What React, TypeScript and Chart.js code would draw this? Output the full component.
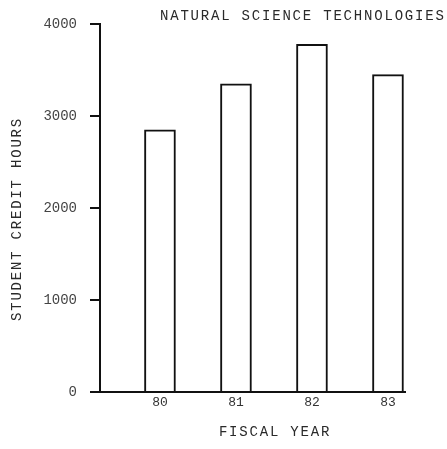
import React, { useEffect, useRef } from "react";
import { Chart, registerables } from "chart.js";

Chart.register(...registerables);

const fiscalYears = [80, 81, 82, 83];
const creditHours = [2850, 3350, 3780, 3450];
const yTicks = [0, 1000, 2000, 3000, 4000];
const chartTitle = "NATURAL SCIENCE TECHNOLOGIES";
const yTitle = "STUDENT CREDIT HOURS";
const xTitle = "FISCAL YEAR";

const MONO = '"Liberation Mono", "DejaVu Sans Mono", monospace';

const titlesPlugin = {
  id: "typedTitles",
  afterDraw(chart: any) {
    const ctx = chart.ctx;
    ctx.save();
    ctx.fillStyle = "#2a2a2a";
    ctx.font = `14px ${MONO}`;
    (ctx as any).letterSpacing = "1.8px";
    ctx.textBaseline = "middle";
    ctx.textAlign = "left";
    ctx.fillText(chartTitle, 160, 16);
    ctx.textAlign = "center";
    ctx.fillText(xTitle, 275, 432);
    ctx.translate(17, 219);
    ctx.rotate(-Math.PI / 2);
    ctx.fillText(yTitle, 0, 0);
    ctx.restore();
  },
};

export default function App() {
  const ref = useRef<HTMLCanvasElement | null>(null);
  useEffect(() => {
    if (!ref.current) return;
    const chart = new Chart(ref.current, {
      type: "bar",
      data: {
        datasets: [
          {
            data: fiscalYears.map((y, i) => ({ x: y, y: creditHours[i] })),
            backgroundColor: "#ffffff",
            borderColor: "#111111",
            borderWidth: 2,
            barThickness: 31,
          },
        ],
      },
      options: {
        animation: false,
        responsive: false,
        layout: { padding: { left: 0, right: 42, top: 24, bottom: 0 } },
        plugins: { legend: { display: false }, tooltip: { enabled: false } },
        scales: {
          x: {
            type: "linear",
            offset: false,
            min: 79.211,
            max: 83.224,
            afterBuildTicks: (scale: any) => {
              scale.ticks = fiscalYears.map((v) => ({ value: v }));
            },
            afterFit: (scale: any) => {
              scale.height = 57;
            },
            grid: { display: false, drawTicks: false, tickLength: 0 },
            border: { display: true, color: "#111", width: 2 },
            ticks: {
              padding: 3,
              color: "#333",
              font: { family: MONO, size: 13 },
              callback: (v: any) => String(v),
              maxRotation: 0,
            },
          },
          y: {
            min: 0,
            max: 4000,
            afterBuildTicks: (scale: any) => {
              scale.ticks = yTicks.map((v) => ({ value: v }));
            },
            afterFit: (scale: any) => {
              scale.width = 100;
            },
            grid: {
              drawOnChartArea: false,
              drawTicks: true,
              tickLength: 10,
              color: "#111",
              lineWidth: 2,
            },
            border: { display: true, color: "#111", width: 2 },
            ticks: {
              padding: 13,
              color: "#444",
              font: { family: MONO, size: 14 },
              callback: (v: any) => String(v),
            },
          },
        },
      },
      plugins: [titlesPlugin],
    });
    return () => chart.destroy();
  }, []);
  return (
    <div style={{ position: "absolute", left: 0, top: 0, width: 447, height: 449, background: "#fff" }}>
      <canvas ref={ref} width={447} height={449} style={{ width: 447, height: 449, display: "block" }} />
    </div>
  );
}
